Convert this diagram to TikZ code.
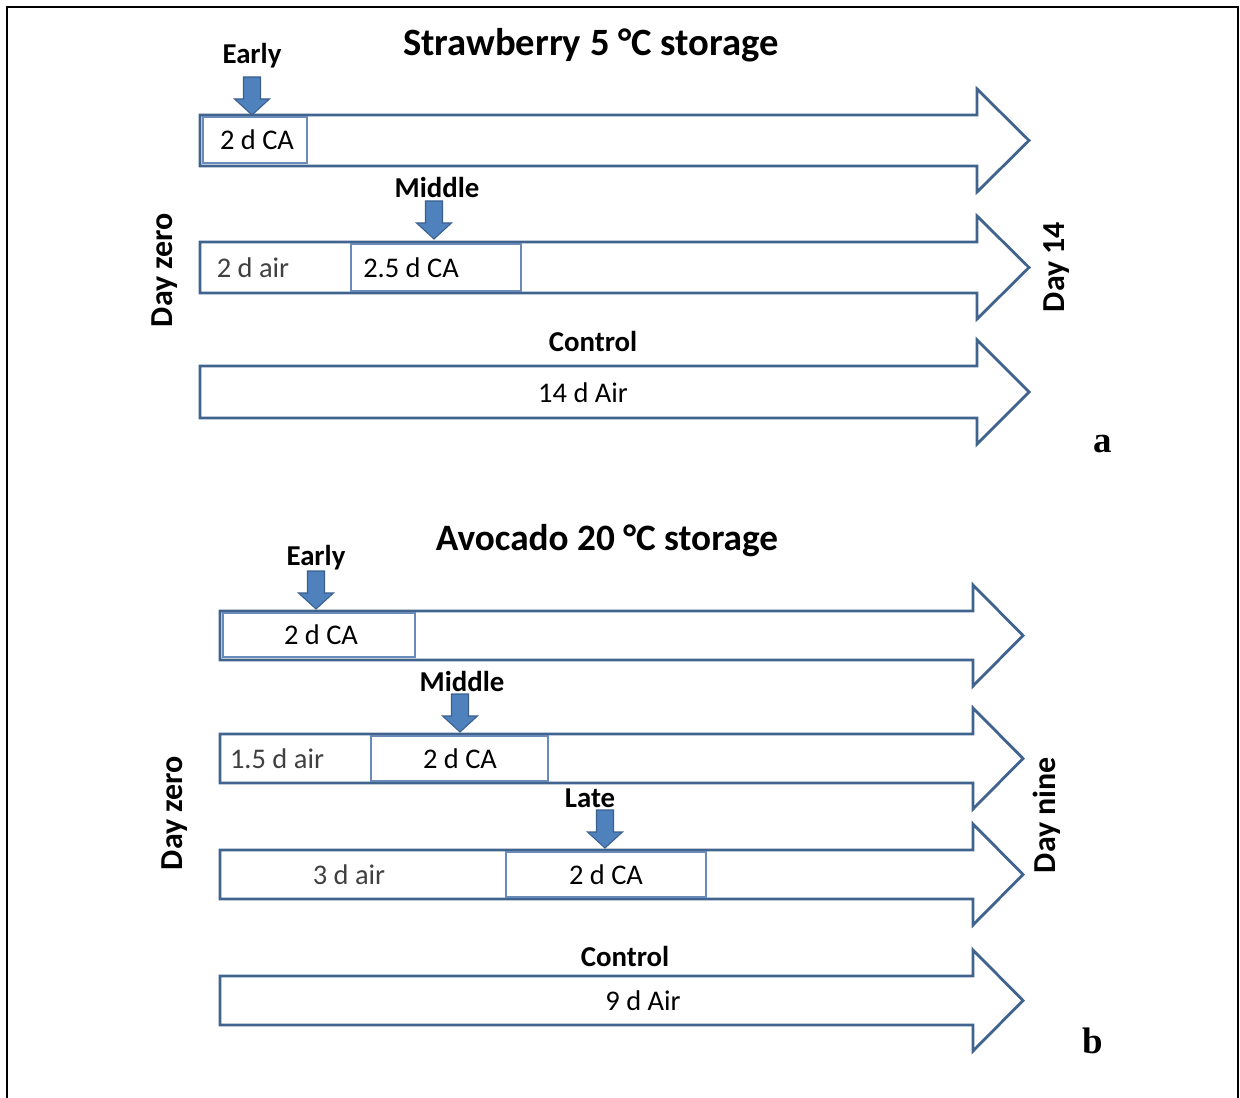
\documentclass[tikz,border=0pt]{standalone}
\usepackage{fontspec}
\setmainfont{Carlito}
\newfontfamily\panelfont{Liberation Serif}
\definecolor{bandline}{HTML}{41648F}
\definecolor{slotline}{HTML}{6A8BBA}
\definecolor{cuefill}{HTML}{4F81BD}
\definecolor{cueline}{HTML}{3A5F8E}
\begin{document}
\begin{tikzpicture}[
	x=0.02cm, y=-0.02cm,
	band/.style={draw=bandline, line width=1.6pt, fill=white, line join=miter},
	slot/.style={draw=slotline, line width=0.8pt},
	cue/.style={draw=cueline, line width=0.6pt, fill=cuefill},
	span/.style={font=\fontsize{16.2}{18}\selectfont, inner sep=0pt},
	air/.style={span, text=black!75},
	tag/.style={font=\fontsize{16.4}{19}\selectfont\bfseries, inner sep=0pt},
	title/.style={font=\fontsize{22}{26}\selectfont\bfseries, inner sep=0pt},
	side/.style={font=\fontsize{18.2}{21}\selectfont\bfseries, inner sep=0pt, rotate=90},
	panel/.style={font=\fontsize{21}{24}\selectfont\panelfont\bfseries, inner sep=0pt},
]
\useasboundingbox (0,0) rectangle (1240,1098);
\draw[line width=1.3pt] (7,1098) -- (7,7) -- (1238,7) -- (1238,1098);

% strawberry timelines: top/bottom of each band
\foreach \t/\b in {115/166, 242/293, 366/418}
	\draw[band] (200,\t) -- (977,\t) -- (977,\t-26) -- (1029,{(\t+\b)/2})
		-- (977,\b+26) -- (977,\b) -- (200,\b) -- cycle;
% avocado timelines
\foreach \t/\b in {611/660, 734/783, 850/899, 976/1025}
	\draw[band] (220,\t) -- (973,\t) -- (973,\t-26) -- (1023,{(\t+\b)/2})
		-- (973,\b+26) -- (973,\b) -- (220,\b) -- cycle;

% CA windows
\draw[slot] (203,117) rectangle (307,163);
\draw[slot] (351,244) rectangle (521,291);
\draw[slot] (223,613) rectangle (415,657);
\draw[slot] (371,736) rectangle (548,781);
\draw[slot] (506,852) rectangle (706,897);

% start markers: x / tip
\foreach \x/\y in {252/115, 434/239, 316/609, 460/732, 605/848}
	\draw[cue] (\x-8.5,\y-38) -- (\x+8.5,\y-38) -- (\x+8.5,\y-16) -- (\x+17.5,\y-16)
		-- (\x,\y) -- (\x-17.5,\y-16) -- (\x-8.5,\y-16) -- cycle;

% strawberry
\node[title] (ttla) at (591,45) {Strawberry 5 °C storage};
\node[tag] (erla) at (252,56) {Early};
\node[span] (caea) at (257,140) {2 d CA};
\node[tag] (mdla) at (437,187) {Middle};
\node[air] (aira) at (253,268) {2 d air};
\node[span] (cama) at (411,268) {2.5 d CA};
\node[tag] (ctla) at (593,341) {Control};
\node[span] (cna) at (583,393) {14 d Air};
\node[side] (d0a) at (165,270) {Day zero};
\node[side] (dna) at (1057,267) {Day 14};
\node[panel] (pa) at (1103,444) {a};

% avocado
\node[title, font=\fontsize{21.2}{25}\selectfont\bfseries] (ttlb) at (607,541) {Avocado 20 °C storage};
\node[tag] (erlb) at (316,558) {Early};
\node[span] (caeb) at (321,635) {2 d CA};
\node[tag] (mdlb) at (462,681) {Middle};
\node[air] (airb) at (277,759) {1.5 d air};
\node[span] (camb) at (460,759) {2 d CA};
\node[tag] (ltlb) at (590,798) {Late};
\node[air] (airl) at (349,875) {3 d air};
\node[span] (call) at (606,875) {2 d CA};
\node[tag] (ctlb) at (625,956) {Control};
\node[span] (cnb) at (643,1001) {9 d Air};
\node[side] (d0b) at (175,813) {Day zero};
\node[side] (dnb) at (1047,815) {Day nine};
\node[panel] (pb) at (1093,1041) {b};
\end{tikzpicture}
\end{document}
